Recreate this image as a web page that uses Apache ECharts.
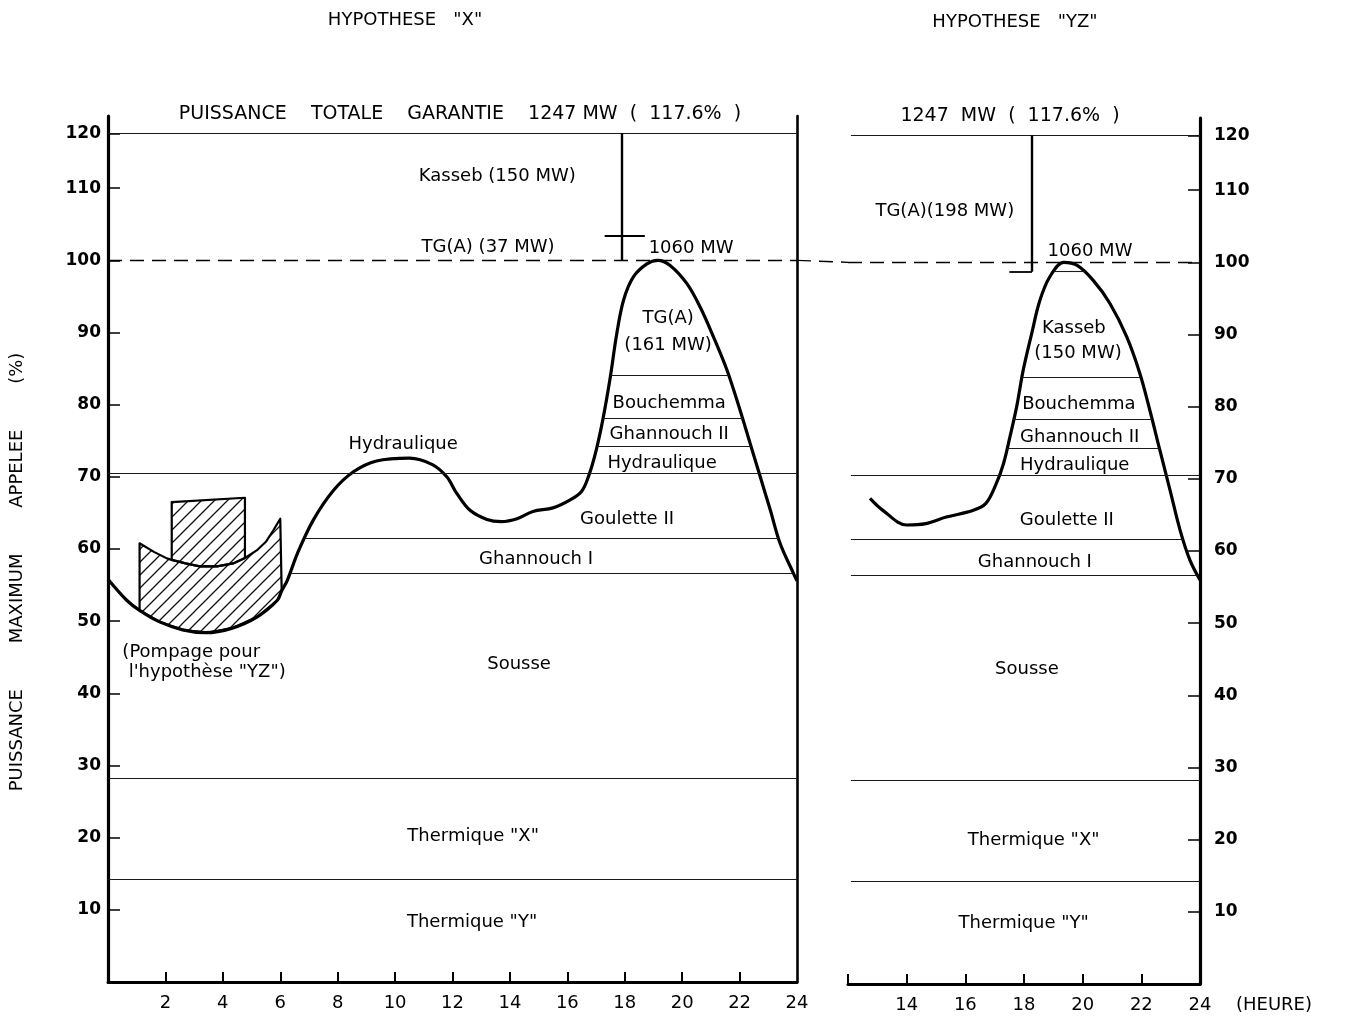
<!DOCTYPE html>
<html>
<head>
<meta charset="utf-8">
<script src="https://cdn.jsdelivr.net/npm/echarts@6/dist/echarts.min.js"></script>
<style>
  html, body { margin: 0; padding: 0; background: #fff; }
  #chart { width: 1346px; height: 1020px; }
</style>
</head>
<body>
<div id="chart"></div>
<script>
// ---------- data ----------
// Daily load curve, hypothesis "X" (hour, % of 1060 MW peak)
const loadCurveX = [
  [0, 55.8], [0.65, 52.9], [1.1, 51.5], [1.8, 49.9], [2.6, 48.8], [3.4, 48.4],
  [4.3, 49.0], [5.2, 50.6], [5.9, 52.9], [6.05, 54.2], [6.25, 55.7], [6.6, 59.4],
  [7.15, 64.0], [7.85, 68.1], [8.55, 70.7], [9.35, 72.2], [10.5, 72.6], [11.3, 71.7],
  [11.8, 70.0], [12.15, 67.7], [12.6, 65.4], [13.2, 64.1], [13.7, 63.8], [14.25, 64.2],
  [14.8, 65.2], [15.5, 65.7], [16.1, 66.8], [16.5, 68.0], [16.75, 70.2], [17.0, 73.6],
  [17.25, 78.2], [17.5, 83.9], [17.72, 89.8], [17.96, 94.5], [18.3, 97.7], [18.77, 99.5],
  [19.15, 100], [19.58, 99.3], [20.16, 96.8], [20.63, 93.5], [21.09, 89.4], [21.56, 84.8],
  [22.02, 79.2], [22.37, 74.6], [22.72, 70.0], [23.07, 65.4], [23.41, 60.8], [23.88, 56.6],
  [24, 55.6]
];
// Daily load curve, hypothesis "YZ" (afternoon and evening only)
const loadCurveYZ = [
  [12.75, 67.3], [13.2, 65.6], [14.0, 63.6], [14.65, 63.8], [15.35, 64.7], [16.25, 65.6],
  [16.7, 66.6], [17.05, 69.3], [17.3, 72.1], [17.52, 75.8], [17.75, 80.0], [17.97, 85.0],
  [18.26, 90.1], [18.54, 94.7], [18.88, 98.0], [19.35, 100], [19.8, 99.6], [20.36, 97.5],
  [20.93, 94.3], [21.5, 89.7], [21.95, 84.6], [22.29, 79.5], [22.63, 74.0], [22.98, 68.4],
  [23.32, 62.9], [23.66, 58.7], [24, 56.0]
];
// Night pumping load added for hypothesis "YZ" (upper edge of the band)
const pumpingTop = [
  [1.1, 60.8], [1.6, 59.6], [2.05, 58.7], [2.22, 58.5], [2.7, 58.0], [3.2, 57.6],
  [3.8, 57.6], [4.36, 58.0], [4.77, 58.75], [5.18, 59.8], [5.5, 61.0], [5.76, 62.6], [6.0, 64.2]
];
// Extra pumping block (2h20 - 4h45)
const pumpingBlockTop = [[2.22, 66.5], [4.77, 67.1]];

// Levels (% of peak)
const totalGuaranteed = 117.6;   // 1247 MW
const peakDemand = 100;          // 1060 MW

// Layer boundaries: [from hour, to hour, level]
const layerLinesX = [
  [0, 24, 117.6], [17.51, 21.62, 84.1], [17.245, 22.1, 78.1], [17.03, 22.4, 74.2],
  [0, 24, 70.5], [6.85, 23.36, 61.5], [6.34, 23.87, 56.7], [0, 24, 28.3], [0, 24, 14.3]
];
const layerLinesYZ = [
  [12.1, 24, 117.6], [19.02, 20.07, 98.7], [17.93, 21.98, 84.1], [17.65, 22.37, 78.2],
  [17.42, 22.62, 74.2], [12.1, 24, 70.5], [12.1, 23.43, 61.6], [12.1, 23.93, 56.6],
  [12.1, 24, 28.3], [12.1, 24, 14.3]
];
// Reserve brackets: [hour, top level, bottom level, tick from, tick to, tick level]
const reserveX = [17.9, 117.6, 100, 17.3, 18.7, 103.45];
const reserveYZ = [18.27, 117.6, 98.7, 17.5, 18.27, 98.7];

// Axis ticks
const yTickValues = [10, 20, 30, 40, 50, 60, 70, 80, 90, 100, 110, 117.6];
const yTickLabels = ['10', '20', '30', '40', '50', '60', '70', '80', '90', '100', '110', '120'];
const xTicksX = [2, 4, 6, 8, 10, 12, 14, 16, 18, 20, 22];
const xLabelsX = [2, 4, 6, 8, 10, 12, 14, 16, 18, 20, 22, 24];
const xTicksYZ = [12, 14, 16, 18, 20, 22];
const xLabelsYZ = [14, 16, 18, 20, 22, 24];

// Station names placed in their layers: [text, hour, level]
const namesX = [
  ['Kasseb (150 MW)', 13.56, 111.6], ['TG(A) (37 MW)', 13.24, 101.8], ['1060 MW', 20.31, 101.7],
  ['TG(A)', 19.51, 92.0], ['(161 MW)', 19.51, 88.2], ['Bouchemma', 19.55, 80.2],
  ['Ghannouch II', 19.55, 75.9], ['Hydraulique', 19.3, 71.9], ['Hydraulique', 10.28, 74.5],
  ['Goulette II', 18.08, 64.1], ['Ghannouch I', 14.91, 58.6], ['Sousse', 14.32, 44.0],
  ['Thermique "X"', 12.72, 20.2], ['Thermique "Y"', 12.68, 8.3]
];
const pumpingNote = [['(Pompage pour', 0.5, 45.7], ['l\'hypothèse "YZ")', 0.72, 42.9]];
const namesYZ = [
  ['TG(A)(198 MW)', 15.3, 107.1], ['1060 MW', 20.25, 101.5], ['Kasseb', 19.7, 90.9],
  ['(150 MW)', 19.84, 87.4], ['Bouchemma', 19.87, 80.3], ['Ghannouch II', 19.9, 75.8],
  ['Hydraulique', 19.73, 71.9], ['Goulette II', 19.46, 64.3], ['Ghannouch I', 18.37, 58.4],
  ['Sousse', 18.1, 43.6], ['Thermique "X"', 18.33, 19.9], ['Thermique "Y"', 17.99, 8.4]
];

// ---------- styling ----------
const INK = '#000';
const FONT = '"DejaVu Sans", "Liberation Sans", sans-serif';

function hatchCanvas() {
  const s = 13;
  const c = document.createElement('canvas');
  c.width = s; c.height = s;
  const g = c.getContext('2d');
  g.strokeStyle = '#111';
  g.lineWidth = 1.3;
  g.beginPath();
  g.moveTo(-1, s + 1); g.lineTo(s + 1, -1);
  g.moveTo(-4, 4); g.lineTo(4, -4);
  g.moveTo(s - 4, s + 4); g.lineTo(s + 4, s - 4);
  g.stroke();
  return c;
}
const hatch = { image: hatchCanvas(), repeat: 'repeat' };

function segments(lines) {
  return lines.map(([a, b, v]) => [
    { coord: [a, v] }, { coord: [b, v] }
  ]);
}
function bracket(r) {
  const [h, top, bottom, t0, t1, tl] = r;
  return [
    [{ coord: [h, top], lineStyle: { color: INK, width: 2.4, type: 'solid' } }, { coord: [h, bottom] }],
    [{ coord: [t0, tl], lineStyle: { color: INK, width: 1.8, type: 'solid' } }, { coord: [t1, tl] }]
  ];
}
function dashed(a, b) {
  return [[{ coord: [a, peakDemand], lineStyle: { color: INK, width: 1.4, type: [14, 8] } },
           { coord: [b, peakDemand] }]];
}
function nameSeries(list, xi, yi, alignLeft) {
  return {
    type: 'scatter', xAxisIndex: xi, yAxisIndex: yi, silent: true,
    symbolSize: 1, itemStyle: { color: 'rgba(0,0,0,0)', opacity: 1 },
    data: list.map(([t, h, v]) => ({ name: t, value: [h, v] })),
    label: {
      show: true, position: 'inside', formatter: p => p.name, opacity: 1,
      color: '#000', fontFamily: FONT, fontSize: 18,
      align: alignLeft ? 'left' : 'center'
    },
    z: 5
  };
}

// pumping polygons: band between load curve and pumping top, plus the block
const pumpBase = loadCurveX.filter(p => p[0] >= 1.1 && p[0] <= 6.05);
const pumpBand = pumpingTop.concat(pumpBase.slice().reverse());
const pumpBlock = pumpingBlockTop.concat(
  pumpingTop.filter(p => p[0] >= 2.22 && p[0] <= 4.77).reverse());
const pumpShapes = [pumpBand, pumpBlock];

const thinLine = { color: '#1a1a1a', width: 1.1, type: 'solid' };

const yAxisBase = {
  type: 'value', min: 0, max: 120, splitLine: { show: false }
};

const option = {
  animation: false,
  backgroundColor: '#fff',
  grid: [
    { left: 108, top: 116, width: 689, height: 866 },
    { left: 848, top: 118, width: 352, height: 866 }
  ],
  xAxis: [
    {
      gridIndex: 0, type: 'value', min: 0, max: 24,
      splitLine: { show: false },
      axisLine: { lineStyle: { color: INK, width: 3 } },
      axisTick: { inside: true, length: 10, customValues: xTicksX, lineStyle: { color: INK, width: 2 } },
      axisLabel: { customValues: xLabelsX, color: INK, fontFamily: FONT, fontSize: 18, margin: 12 }
    },
    {
      gridIndex: 1, type: 'value', min: 12, max: 24,
      splitLine: { show: false },
      axisLine: { lineStyle: { color: INK, width: 3 } },
      axisTick: { inside: true, length: 10, customValues: xTicksYZ, lineStyle: { color: INK, width: 2 } },
      axisLabel: { customValues: xLabelsYZ, color: INK, fontFamily: FONT, fontSize: 18, margin: 12 },
      name: '(HEURE)', nameLocation: 'end', nameGap: 36,
      nameTextStyle: { color: INK, fontFamily: FONT, fontSize: 18, verticalAlign: 'top', padding: [12, 0, 0, 0] }
    }
  ],
  yAxis: [
    Object.assign({}, yAxisBase, {
      gridIndex: 0, position: 'left',
      axisLine: { show: true, lineStyle: { color: INK, width: 3.2 } },
      axisTick: { show: true, inside: true, length: 12, customValues: yTickValues, lineStyle: { color: INK, width: 1.5 } },
      axisLabel: {
        customValues: yTickValues, margin: 7, color: INK, fontFamily: FONT, fontSize: 17, fontWeight: 'bold',
        formatter: v => yTickLabels[yTickValues.indexOf(v)]
      },
      name: 'PUISSANCE        MAXIMUM        APPELEE        (%)',
      nameLocation: 'middle', nameRotate: 90, nameGap: 82,
      nameTextStyle: { color: INK, fontFamily: FONT, fontSize: 18, padding: [0, 46, 0, 0] }
    }),
    Object.assign({}, yAxisBase, {
      gridIndex: 0, position: 'right',
      axisLine: { show: true, lineStyle: { color: INK, width: 2.6 } },
      axisTick: { show: false }, axisLabel: { show: false }
    }),
    Object.assign({}, yAxisBase, {
      gridIndex: 1, position: 'right',
      axisLine: { show: true, lineStyle: { color: INK, width: 3.2 } },
      axisTick: { show: true, inside: true, length: 12, customValues: yTickValues, lineStyle: { color: INK, width: 1.5 } },
      axisLabel: {
        customValues: yTickValues, margin: 14, color: INK, fontFamily: FONT, fontSize: 17, fontWeight: 'bold',
        formatter: v => yTickLabels[yTickValues.indexOf(v)]
      }
    })
  ],
  series: [
    {
      name: 'Charge X', type: 'line', xAxisIndex: 0, yAxisIndex: 0,
      data: loadCurveX, smooth: 0.35, showSymbol: false, silent: true,
      lineStyle: { color: INK, width: 3.2 }, z: 4,
      markLine: {
        silent: true, symbol: ['none', 'none'], label: { show: false },
        lineStyle: thinLine,
        data: segments(layerLinesX).concat(dashed(0, 24), bracket(reserveX))
      }
    },
    {
      name: 'Pompage', type: 'custom', xAxisIndex: 0, yAxisIndex: 0, silent: true,
      data: pumpShapes.map(s => s[0]),
      renderItem: (params, api) => ({
        type: 'polygon',
        shape: { points: pumpShapes[params.dataIndex].map(p => api.coord(p)) },
        style: { fill: hatch, stroke: INK, lineWidth: 2.2, lineJoin: 'round' }
      }),
      z: 3
    },
    nameSeries(namesX, 0, 0, false),
    nameSeries(pumpingNote, 0, 0, true),
    {
      name: 'Charge YZ', type: 'line', xAxisIndex: 1, yAxisIndex: 2,
      data: loadCurveYZ, smooth: 0.35, showSymbol: false, silent: true,
      lineStyle: { color: INK, width: 3.2 }, z: 4,
      markLine: {
        silent: true, symbol: ['none', 'none'], label: { show: false },
        lineStyle: thinLine,
        data: segments(layerLinesYZ).concat(dashed(12, 24), bracket(reserveYZ))
      }
    },
    nameSeries(namesYZ, 1, 2, false)
  ],
  graphic: {
    elements: [
      { type: 'text', id: 'hx', x: 405, y: 20, style: { text: 'HYPOTHESE   "X"', fill: INK, font: '18px ' + FONT, align: 'center', verticalAlign: 'middle' } },
      { type: 'text', id: 'hyz', x: 1015, y: 22, style: { text: 'HYPOTHESE   "YZ"', fill: INK, font: '18px ' + FONT, align: 'center', verticalAlign: 'middle' } },
      { type: 'text', id: 'totx', x: 460, y: 114, style: { text: 'PUISSANCE    TOTALE    GARANTIE    1247 MW  (  117.6%  )', fill: INK, font: '19px ' + FONT, align: 'center', verticalAlign: 'middle' } },
      { type: 'text', id: 'totyz', x: 1010, y: 116, style: { text: '1247  MW  (  117.6%  )', fill: INK, font: '19px ' + FONT, align: 'center', verticalAlign: 'middle' } }
    ]
  }
};

const chart = echarts.init(document.getElementById('chart'), null, { renderer: 'canvas' });
chart.setOption(option);

// the 100 % dashed line runs across the gap between the two panels
const gapFrom = chart.convertToPixel({ gridIndex: 0 }, [24, peakDemand]);
const gapTo = chart.convertToPixel({ gridIndex: 1 }, [12, peakDemand]);
chart.setOption({
  graphic: {
    elements: [{
      type: 'line', id: 'gap100',
      shape: { x1: gapFrom[0], y1: gapFrom[1], x2: gapTo[0], y2: gapTo[1] },
      style: { stroke: INK, lineWidth: 1.4, lineDash: [14, 8] }
    }]
  }
});
</script>
</body>
</html>
